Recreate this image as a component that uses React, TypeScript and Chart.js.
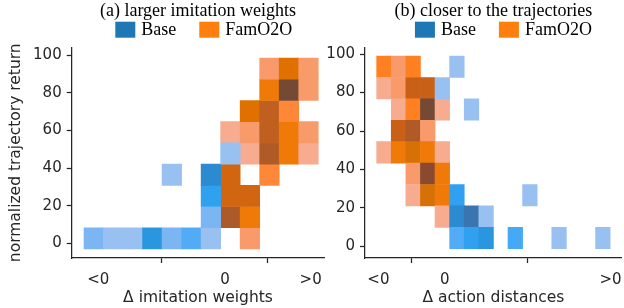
import React, { useEffect, useRef } from 'react';
import { Chart, registerables } from 'chart.js';

Chart.register(...registerables);

// ---------- shared ----------
const seriesNames = ['Base', 'FamO2O'];
const seriesColors = ['#1f77b4', '#ff7f0e'];
// colour ramps indexed by cell count (1 = lightest)
const basePalette = ['#98c1f1', '#7cb6f2', '#52acf5', '#45a9f5', '#30a0f0', '#2b96e0', '#2b8ad0', '#3a75b0'];
const famPalette = ['#f7ac90', '#f99a6a', '#ff8838', '#ff8020', '#f07a08', '#e07000', '#d87008', '#d26610', '#c86018', '#c06020', '#b05a28', '#ac5a2a', '#8a4a30', '#744a35'];

const yTickValues = [0, 20, 40, 60, 80, 100];
const xTickLabels = ['<0', '0', '>0'];
const yAxisLabel = 'normalized trajectory return';

// ---------- panel (a) ----------
const aTitle = '(a) larger imitation weights';
const aXLabel = 'Δ imitation weights';
const aXTicks = [0.727, 7.23, 11.61];
const aRowEdges = [-3.0, 8.27, 19.53, 30.8, 42.07, 53.33, 64.6, 75.87, 87.13, 98.4];
const aBaseCol = [0, 1, 2, 3, 4, 5, 6, 6, 6, 4, 6, 7];
const aBaseRow = [0, 0, 0, 0, 0, 0, 0, 1, 2, 3, 3, 4];
const aBaseCount = [2, 1, 1, 6, 2, 3, 1, 2, 5, 1, 7, 1];
const aFamCol = [8, 7, 8, 7, 8, 7, 9, 8, 9, 10, 11, 7, 8, 9, 10, 11, 8, 9, 10, 9, 10, 11, 9, 10, 11];
const aFamRow = [0, 1, 1, 2, 2, 3, 3, 4, 4, 4, 4, 5, 5, 5, 5, 5, 6, 6, 6, 7, 7, 7, 8, 8, 8];
const aFamCount = [2, 12, 5, 8, 8, 8, 3, 1, 11, 5, 1, 1, 2, 10, 5, 2, 6, 10, 3, 5, 14, 2, 2, 6, 2];

// ---------- panel (b) ----------
const bTitle = '(b) closer to the trajectories';
const bXLabel = 'Δ action distances';
const bXTicks = [0.12, 4.66, 16.03];
const bRowEdges = [-1.2, 9.93, 21.07, 32.2, 43.3, 54.5, 65.6, 76.7, 87.8, 99.0];
const bBaseCol = [5, 4, 6, 5, 10, 5, 6, 7, 5, 6, 7, 9, 12, 15];
const bBaseRow = [8, 7, 6, 2, 2, 1, 1, 1, 0, 0, 0, 0, 0, 0];
const bBaseCount = [1, 1, 1, 5, 1, 7, 8, 1, 3, 5, 6, 4, 1, 1];
const bFamCol = [0, 1, 2, 0, 1, 2, 3, 1, 2, 3, 4, 1, 2, 3, 0, 1, 2, 3, 4, 2, 3, 4, 2, 3, 4, 4];
const bFamRow = [8, 8, 8, 7, 7, 7, 7, 6, 6, 6, 6, 5, 5, 5, 4, 4, 4, 4, 4, 3, 3, 3, 2, 2, 2, 1];
const bFamCount = [4, 2, 4, 1, 2, 9, 9, 1, 4, 14, 1, 9, 11, 2, 1, 5, 7, 5, 1, 2, 13, 5, 1, 7, 5, 1];

const SANS = '"DejaVu Sans", sans-serif';
const SERIF = '"Liberation Serif", "Times New Roman", serif';
const INK = '#262626';

function cells(cols: number[], rows: number[], edges: number[]) {
  return cols.map((c, i) => ({ x: c + 0.5, y: [edges[rows[i]], edges[rows[i] + 1]] }));
}

const panelLegend = {
  id: 'panelLegend',
  afterDraw(chart: any, _args: any, o: any) {
    const { ctx, chartArea } = chart;
    ctx.save();
    ctx.font = `${o.fontSize}px ${SERIF}`;
    const widths = seriesNames.map((t) => ctx.measureText(t).width);
    const total =
      widths.reduce((a, w) => a + o.boxWidth + o.textGap + w, 0) + o.itemGap * (widths.length - 1);
    let x = (chartArea.left + chartArea.right) / 2 + o.shift - total / 2;
    ctx.textBaseline = 'middle';
    ctx.textAlign = 'left';
    seriesNames.forEach((name, i) => {
      ctx.fillStyle = seriesColors[i];
      ctx.fillRect(x, o.boxTop, o.boxWidth, o.boxHeight);
      ctx.fillStyle = '#000';
      ctx.fillText(name, x + o.boxWidth + o.textGap, o.textY);
      x += o.boxWidth + o.textGap + widths[i] + o.itemGap;
    });
    ctx.restore();
  },
};

function makeConfig(p: any) {
  return {
    type: 'bar',
    data: {
      datasets: [
        {
          label: seriesNames[0],
          data: cells(p.baseCol, p.baseRow, p.rowEdges),
          backgroundColor: p.baseCount.map((n: number) => basePalette[n - 1]),
          borderWidth: 0,
          grouped: false,
          categoryPercentage: 1,
          barPercentage: 1,
        },
        {
          label: seriesNames[1],
          data: cells(p.famCol, p.famRow, p.rowEdges),
          backgroundColor: p.famCount.map((n: number) => famPalette[n - 1]),
          borderWidth: 0,
          grouped: false,
          categoryPercentage: 1,
          barPercentage: 1,
        },
      ],
    },
    options: {
      animation: false,
      responsive: false,
      maintainAspectRatio: false,
      layout: { padding: { left: 0, right: p.padRight, top: 0, bottom: 0 } },
      plugins: {
        legend: { display: false },
        tooltip: { enabled: false },
        title: {
          display: true,
          text: p.title,
          fullSize: false,
          color: '#000',
          font: { family: SERIF, size: 18, weight: 'normal', lineHeight: 1.2 },
          padding: { top: 0, bottom: 25.9 },
        },
        panelLegend: {
          fontSize: 18,
          boxWidth: 20,
          boxHeight: 16,
          boxTop: 21.7,
          textY: 30,
          textGap: 6,
          itemGap: 23,
          shift: p.legendShift,
        },
      },
      scales: {
        x: {
          type: 'linear',
          min: p.xMin,
          max: p.xMax,
          offset: false,
          grid: {
            display: true,
            drawOnChartArea: false,
            drawTicks: true,
            tickLength: 5,
            tickWidth: 1.25,
            tickColor: INK,
          },
          border: { display: true, color: INK, width: 1.25 },
          ticks: {
            autoSkip: false,
            maxRotation: 0,
            padding: 8,
            color: INK,
            font: { family: SANS, size: 15 },
            callback: (_v: any, i: number) => xTickLabels[i],
          },
          afterBuildTicks: (s: any) => {
            s.ticks = p.xTicks.map((v: number) => ({ value: v }));
          },
          afterFit: (s: any) => {
            s.height = 50;
          },
          title: {
            display: true,
            text: p.xLabel,
            color: INK,
            font: { family: SANS, size: 15.5 },
            padding: { top: 0, bottom: 1 },
          },
        },
        y: {
          type: 'linear',
          min: p.yMin,
          max: p.yMax,
          grid: {
            display: true,
            drawOnChartArea: false,
            drawTicks: true,
            tickLength: 5,
            tickWidth: 1.25,
            tickColor: INK,
          },
          border: { display: true, color: INK, width: 1.25 },
          ticks: {
            padding: 5,
            color: INK,
            font: { family: SANS, size: 15 },
          },
          afterBuildTicks: (s: any) => {
            s.ticks = yTickValues.map((v) => ({ value: v }));
          },
          afterFit: (s: any) => {
            s.width = p.yAxisWidth;
          },
          title: {
            display: p.showYTitle,
            text: yAxisLabel,
            color: INK,
            font: { family: SANS, size: 15.5 },
            padding: { top: 7, bottom: 0 },
          },
        },
      },
    },
    plugins: [panelLegend],
  };
}

const panelA = {
  title: aTitle, xLabel: aXLabel, xTicks: aXTicks, rowEdges: aRowEdges,
  baseCol: aBaseCol, baseRow: aBaseRow, baseCount: aBaseCount,
  famCol: aFamCol, famRow: aFamRow, famCount: aFamCount,
  xMin: -0.63, xMax: 12.31, yMin: -7.8, yMax: 104.0,
  yAxisWidth: 71.7, padRight: 4.3, legendShift: 5.8, showYTitle: true,
};

const panelB = {
  title: bTitle, xLabel: bXLabel, xTicks: bXTicks, rowEdges: bRowEdges,
  baseCol: bBaseCol, baseRow: bBaseRow, baseCount: bBaseCount,
  famCol: bFamCol, famRow: bFamRow, famCount: bFamCount,
  xMin: -0.8, xMax: 16.8, yMin: -6.0, yMax: 103.4,
  yAxisWidth: 45, padRight: 7, legendShift: 10, showYTitle: false,
};

export default function App() {
  const refA = useRef<HTMLCanvasElement | null>(null);
  const refB = useRef<HTMLCanvasElement | null>(null);

  useEffect(() => {
    const charts: Chart[] = [];
    if (refA.current) charts.push(new Chart(refA.current, makeConfig(panelA) as any));
    if (refB.current) charts.push(new Chart(refB.current, makeConfig(panelB) as any));
    return () => charts.forEach((c) => c.destroy());
  }, []);

  return (
    <div style={{ position: 'fixed', left: 0, top: 0, width: 630, height: 308, background: '#fff' }}>
      <canvas
        ref={refA}
        width={330}
        height={308}
        style={{ position: 'absolute', left: 0, top: 0, width: 330, height: 308 }}
      />
      <canvas
        ref={refB}
        width={310}
        height={308}
        style={{ position: 'absolute', left: 320, top: 0, width: 310, height: 308 }}
      />
    </div>
  );
}
